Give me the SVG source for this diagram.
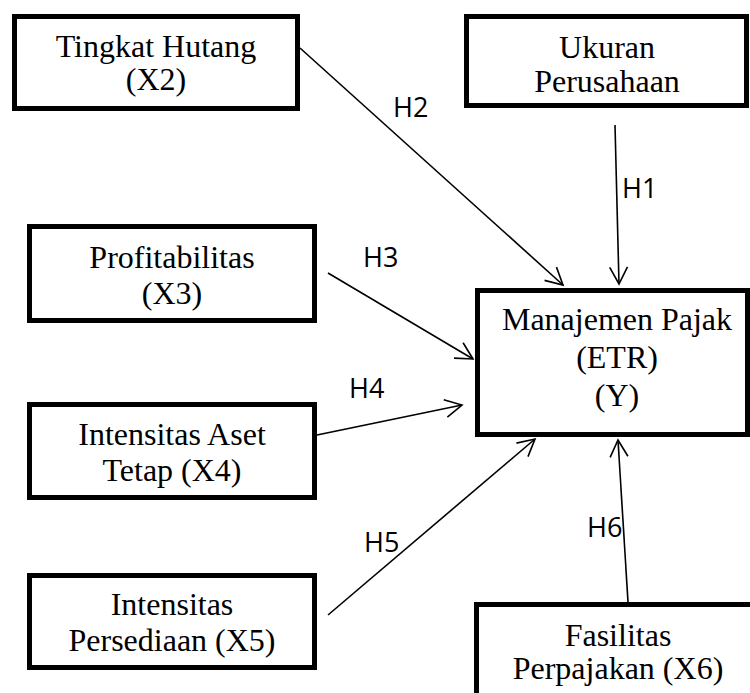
<svg xmlns="http://www.w3.org/2000/svg" width="750" height="693" viewBox="0 0 750 693">
<style>
.box{fill:#fff;stroke:#000;stroke-width:5}
.t{font-family:"Liberation Serif","Times New Roman",serif;font-size:32px;fill:#000;text-anchor:middle}
.c{stroke:#000;stroke-width:1.6;fill:none;marker-end:url(#ah)}
.l{font-family:"Open Sans","Liberation Sans",sans-serif;font-size:27px;fill:#000}
</style>
<defs>
<marker id="ah" markerUnits="userSpaceOnUse" viewBox="-20 -11 22 22" refX="0" refY="0" markerWidth="22" markerHeight="22" orient="auto" overflow="visible">
<path d="M-16.8,-8.9 L0,0 L-16.8,8.9" fill="none" stroke="#000" stroke-width="1.6"/>
</marker>
</defs>
<rect width="750" height="693" fill="#fff"/>
<g id="connectors">
<line class="c" x1="300" y1="48" x2="563" y2="285"/>
<line class="c" x1="615" y1="125" x2="619" y2="284"/>
<line class="c" x1="328" y1="273" x2="473" y2="359"/>
<line class="c" x1="317" y1="435" x2="462" y2="405"/>
<line class="c" x1="328" y1="615" x2="535" y2="439"/>
<line class="c" x1="628" y1="602" x2="618" y2="440"/>
<text class="l" x="393" y="117">H2</text>
<text class="l" x="622" y="198">H1</text>
<text class="l" x="363" y="267">H3</text>
<text class="l" x="349" y="398">H4</text>
<text class="l" x="364" y="552">H5</text>
<text class="l" x="587" y="537">H6</text>
</g>
<g id="x2">
<rect class="box" x="14.5" y="16.5" width="283" height="92"/>
<text class="t" x="156" y="57">Tingkat Hutang</text>
<text class="t" x="156" y="90">(X2)</text>
</g>
<g id="x1">
<rect class="box" x="466.5" y="16.5" width="280" height="89"/>
<text class="t" x="607" y="58">Ukuran</text>
<text class="t" x="607" y="92">Perusahaan</text>
</g>
<g id="x3">
<rect class="box" x="29.5" y="226.5" width="285" height="94"/>
<text class="t" x="172" y="268">Profitabilitas</text>
<text class="t" x="172" y="304">(X3)</text>
</g>
<g id="y">
<rect class="box" x="477.5" y="290.5" width="270" height="144"/>
<text class="t" x="617" y="330">Manajemen Pajak</text>
<text class="t" x="617" y="368">(ETR)</text>
<text class="t" x="617" y="406">(Y)</text>
</g>
<g id="x4">
<rect class="box" x="29.5" y="404.5" width="285" height="93"/>
<text class="t" x="172" y="445">Intensitas Aset</text>
<text class="t" x="172" y="481">Tetap (X4)</text>
</g>
<g id="x5">
<rect class="box" x="29.5" y="575.5" width="285" height="92"/>
<text class="t" x="172" y="615">Intensitas</text>
<text class="t" x="172" y="651">Persediaan (X5)</text>
</g>
<g id="x6">
<rect class="box" x="476.5" y="604.5" width="300" height="120"/>
<text class="t" x="618" y="646">Fasilitas</text>
<text class="t" x="618" y="679">Perpajakan (X6)</text>
</g>
</svg>
